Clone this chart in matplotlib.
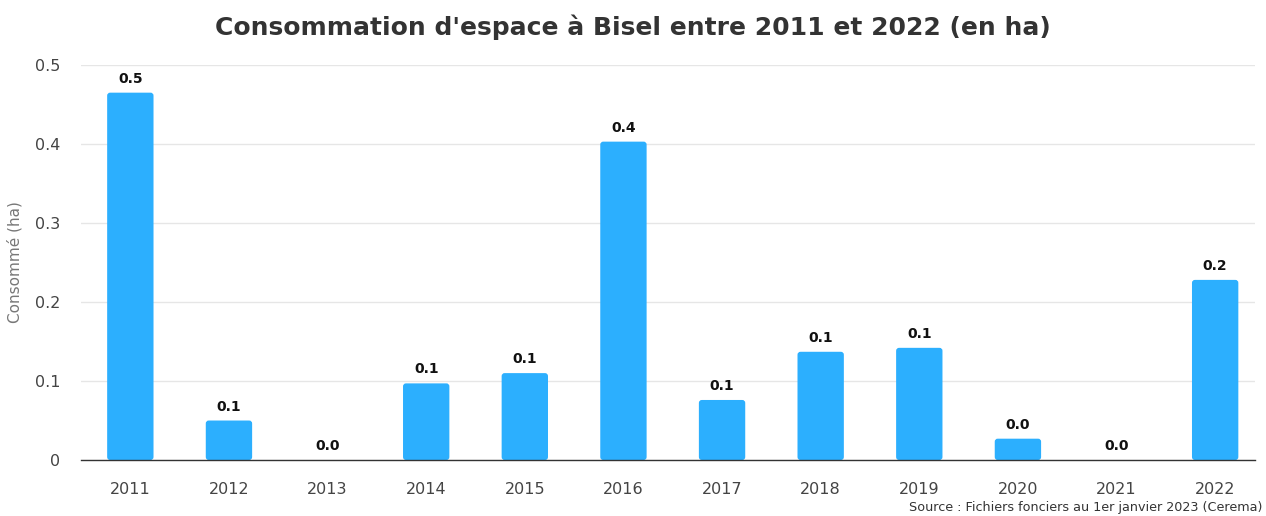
import matplotlib
matplotlib.use("Agg")
import matplotlib.pyplot as plt
from matplotlib.patches import FancyBboxPatch

years = ["2011", "2012", "2013", "2014", "2015", "2016", "2017", "2018", "2019", "2020", "2021", "2022"]
values = [0.465, 0.050, 0.0, 0.097, 0.110, 0.403, 0.076, 0.137, 0.142, 0.027, 0.0, 0.228]
yticks = [0, 0.1, 0.2, 0.3, 0.4, 0.5]
ytick_labels = ["0", "0.1", "0.2", "0.3", "0.4", "0.5"]

plt.rcParams['font.family'] = ['DejaVu Sans']
fig = plt.figure(figsize=(12.66, 5.16), dpi=100)
ax = fig.add_axes([0.064, 0.1085, 0.927, 0.7655])

x = list(range(len(years)))
bars = ax.bar(x, values, width=0.47, color="#2caffe", zorder=3)
aspect = (0.5 / 395.0) / (1.0 / 98.6)
for b in bars:
    b.set_visible(False)
    if b.get_height() > 0:
        p = FancyBboxPatch((b.get_x(), b.get_y()), b.get_width(), b.get_height(),
                           boxstyle="round,pad=0,rounding_size=0.03",
                           mutation_aspect=aspect, facecolor="#2caffe",
                           edgecolor="none", zorder=3)
        ax.add_patch(p)
for xi, v in zip(x, values):
    ax.annotate(f"{v:.1f}", (xi, v), xytext=(0, 5), textcoords="offset points",
                ha="center", va="bottom", fontsize=10, fontweight="bold", color="#111111")

ax.set_xlim(-0.5, 11.4)
ax.set_ylim(0, 0.5)
ax.set_xticks(x)
ax.set_xticklabels(years)
ax.set_yticks(yticks)
ax.set_yticklabels(ytick_labels)
ax.tick_params(axis="both", length=0, labelsize=11.5, colors="#444444")
ax.tick_params(axis="x", pad=16)
ax.tick_params(axis="y", pad=15)
ax.grid(axis="y", color="#e6e6e6", linewidth=1, zorder=0)
for s in ["left", "right", "top"]:
    ax.spines[s].set_visible(False)
ax.spines["bottom"].set_color("#333333")
ax.spines["bottom"].set_linewidth(1)
ax.spines["bottom"].set_zorder(4)
ax.set_ylabel("Consommé (ha)", fontsize=11, color="#777777", labelpad=9)

fig.text(0.5, 0.948, "Consommation d'espace à Bisel entre 2011 et 2022 (en ha)",
         ha="center", va="center", fontsize=18, fontweight="bold", color="#333333")
fig.text(0.997, 0.003, "Source : Fichiers fonciers au 1er janvier 2023 (Cerema)",
         ha="right", va="bottom", fontsize=9.2, color="#333333")

fig.savefig("out.png", dpi=100)
